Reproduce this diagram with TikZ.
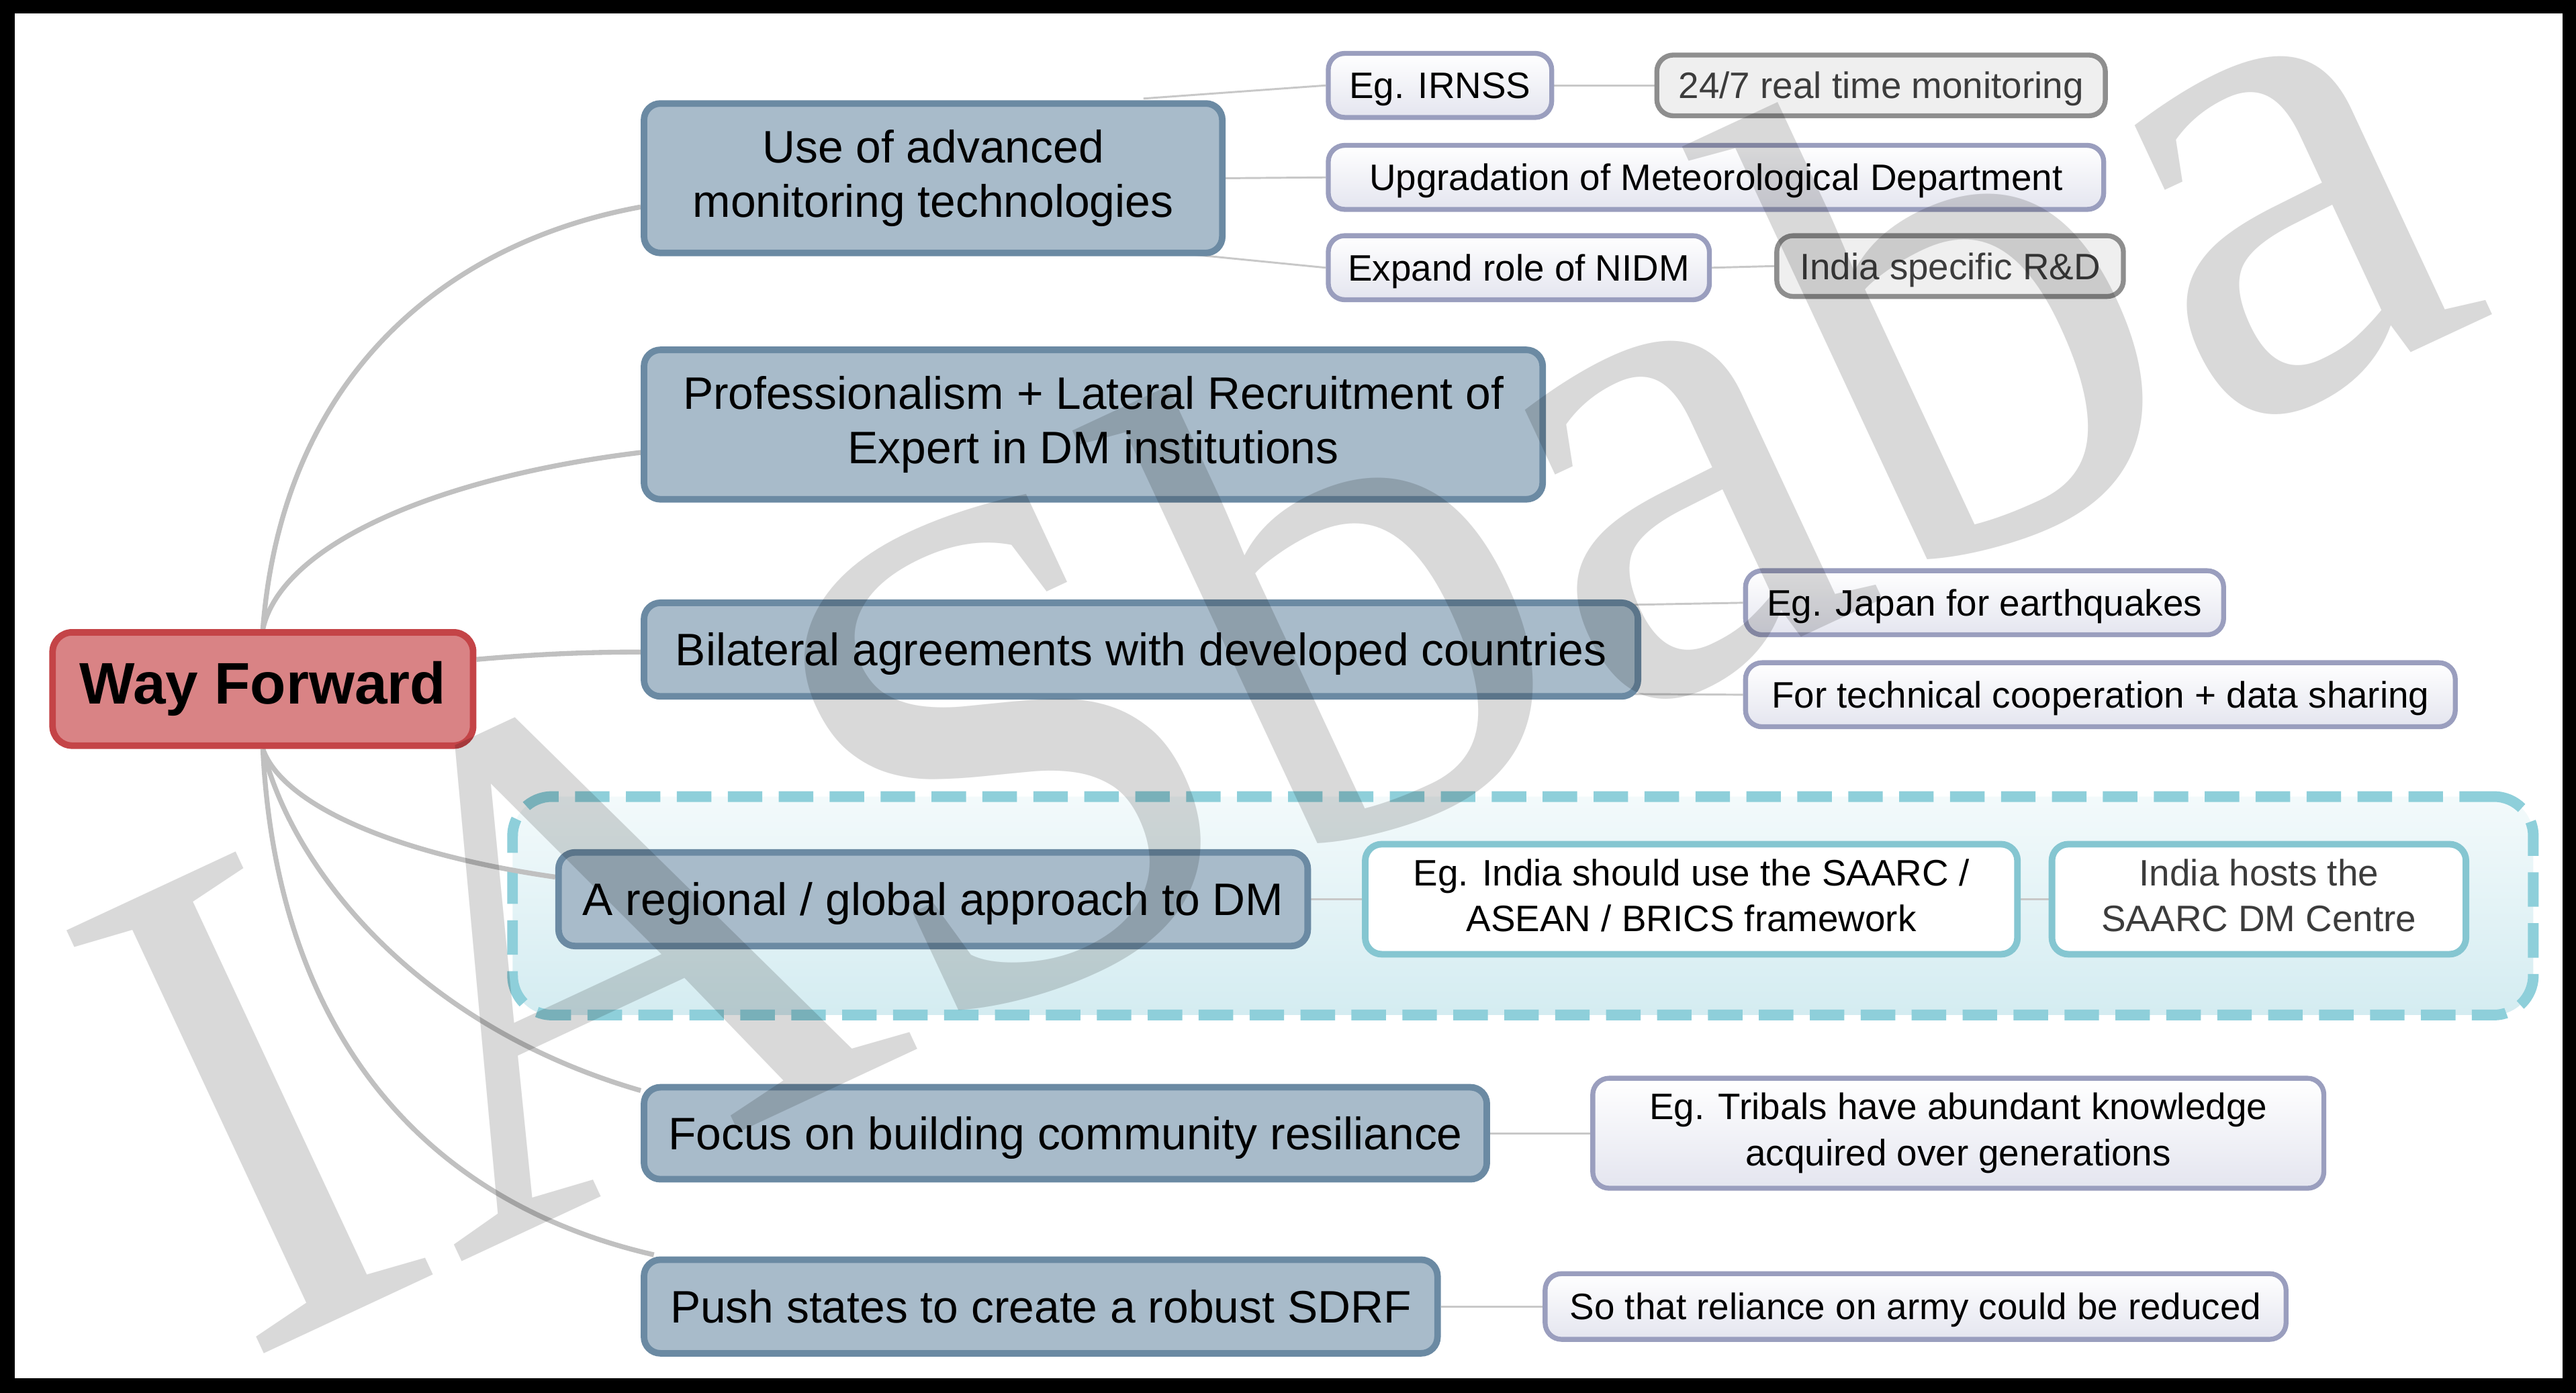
\documentclass[tikz,border=0pt]{standalone}
\usepackage{fontspec}
\setmainfont{Liberation Sans}
\newfontfamily\wmfont{Liberation Serif}
\usetikzlibrary{calc,backgrounds}
\pgfdeclarelayer{grp}
\pgfdeclarelayer{conn}
\pgfdeclarelayer{wm}
\pgfsetlayers{background,grp,conn,main,wm}
\definecolor{rootfill}{HTML}{D98385}
\definecolor{rootdraw}{HTML}{C44447}
\definecolor{mainfill}{HTML}{A8BBCA}
\definecolor{maindraw}{HTML}{6B8AA3}
\definecolor{subdraw}{HTML}{9A9EBE}
\definecolor{subbot}{HTML}{E4E5EF}
\definecolor{graydraw}{HTML}{8E8E8E}
\definecolor{grayfill}{HTML}{EFEFEF}
\definecolor{graytext}{HTML}{3C3C3C}
\definecolor{tealdraw}{HTML}{85C6D1}
\definecolor{grpdraw}{HTML}{8ECFDA}
\definecolor{grptop}{HTML}{F3FAFB}
\definecolor{grpbot}{HTML}{D4ECF1}
\definecolor{connc}{HTML}{C0C0C0}
\definecolor{thinc}{HTML}{C8C8C8}
\newcommand\bxstrut{\rule[-0.21em]{0pt}{1.14em}}
\tikzset{
  rootbox/.style={draw=rootdraw, fill=rootfill, line width=2pt, rounded corners=6pt,
    inner sep=0pt, align=center, font=\fontsize{17.85pt}{21pt}\selectfont\bfseries},
  strutted/.style={execute at begin node=\bxstrut, execute at end node=\bxstrut},
  mainbox/.style={strutted, draw=maindraw, fill=mainfill, line width=2pt, rounded corners=5pt,
    inner sep=0pt, align=center, font=\fontsize{13.85pt}{16.7pt}\selectfont},
  basebox/.style={strutted, line width=1.5pt, rounded corners=5pt, inner sep=0pt, align=center,
    font=\fontsize{11.2pt}{14pt}\selectfont},
  subbox/.style={basebox, draw=subdraw, top color=white, bottom color=subbot},
  graybox/.style={basebox, draw=graydraw, fill=grayfill, text=graytext},
  tealbox/.style={basebox, draw=tealdraw, fill=white, line width=2pt},
  grpbox/.style={draw=grpdraw, line width=3.25pt, dash pattern=on 10.5pt off 5pt,
    rounded corners=12pt, top color=grptop, bottom color=grpbot, inner sep=0pt},
  mainlink/.style={draw=connc, line width=1.5pt},
  sublink/.style={draw=thinc, line width=0.6pt},
  wh/.style 2 args={minimum width=#1, minimum height=#2}
}
\begin{document}
\begin{tikzpicture}[x=0.5pt, y=-0.5pt]
\useasboundingbox (0,0) rectangle (1568,848);
\begin{pgfonlayer}{background}
  \fill[black] (0,0) rectangle (1568,848);
  \fill[white] (9,8) rectangle (1560,839);
\end{pgfonlayer}

\begin{pgfonlayer}{grp}
  \node[grpbox, wh={615pt}{66.5pt}] (grp) at (927,551.5) {};
\end{pgfonlayer}

% root and main branches
\node[rootbox, wh={128pt}{34.5pt}] (root) at (160,419.5) {Way Forward};
\node[mainbox, wh={176pt}{45.5pt}] (b1) at (568,108.5) {Use of advanced\\monitoring technologies};
\node[mainbox, wh={273.5pt}{45.5pt}] (b2) at (665.5,258.5) {Professionalism + Lateral Recruitment of\\Expert in DM institutions};
\node[mainbox, wh={302.5pt}{28.5pt}] (b3) at (694.5,395.5) {Bilateral agreements with developed countries};
\node[mainbox, wh={228pt}{28.5pt}] (b4) at (568,547.5) {A regional / global approach to DM};
\node[mainbox, wh={256.5pt}{28pt}] (b5) at (648.5,690) {Focus on building community resiliance};
\node[mainbox, wh={241.5pt}{28.5pt}] (b6) at (633.5,795.5) {Push states to create a robust SDRF};

% sub topics
\node[subbox, wh={68pt}{19.5pt}] (s1) at (876.5,52) {Eg. IRNSS};
\node[graybox, wh={136.5pt}{18.5pt}] (s2) at (1145,52) {24/7 real time monitoring};
\node[subbox, wh={236pt}{19.5pt}] (s3) at (1044.5,108) {Upgradation of Meteorological Department};
\node[subbox, wh={116pt}{19.5pt}] (s4) at (924.5,163) {Expand role of NIDM};
\node[graybox, wh={105.5pt}{18.5pt}] (s5) at (1187,162) {India specific R\&D};
\node[subbox, wh={145.5pt}{19.5pt}] (s6) at (1208,367) {Eg. Japan for earthquakes};
\node[subbox, wh={216pt}{19.5pt}] (s7) at (1278.5,423) {For technical cooperation + data sharing};
\node[tealbox, wh={198.5pt}{33.5pt}] (s8) at (1029.5,547.5) {Eg. India should use the SAARC /\\ASEAN / BRICS framework};
\node[tealbox, text=graytext, wh={126pt}{33.5pt}] (s9) at (1375,547.5) {India hosts the\\SAARC DM Centre};
\node[subbox, wh={222.5pt}{33.5pt}] (s10) at (1192,690) {Eg. Tribals have abundant knowledge\\acquired over generations};
\node[subbox, wh={225.5pt}{20pt}] (s11) at (1166,795.5) {So that reliance on army could be reduced};

\begin{pgfonlayer}{conn}
  \draw[mainlink] (root.north) .. controls (172,230) and (270,148) .. ($(b1.west)+(0,17.5)$);
  \draw[mainlink] (root.north) .. controls (172,330) and (270,290) .. ($(b2.west)+(0,17)$);
  \draw[mainlink] ($(root.east)+(0,-18)$) .. controls (330,398) and (360,397) .. ($(b3.west)+(0,1.5)$);
  \draw[mainlink] (root.south) .. controls (172,490) and (240,520) .. ($(b4.west)+(0,-13.5)$);
  \draw[mainlink] (root.south) .. controls (178,530) and (255,625) .. ($(b5.west)+(0,-26)$);
  \draw[mainlink] (root.south) .. controls (168,620) and (250,730) .. ($(b6.north west)+(8,-1)$);

  \draw[sublink] ($(b1.north east)+(-50,-1)$) -- (s1.west);
  \draw[sublink] (b1.east) -- (s3.west);
  \draw[sublink] ($(b1.south east)+(-40,-3)$) -- (s4.west);
  \draw[sublink] (s1.east) -- (s2.west);
  \draw[sublink] (s4.east) -- (s5.west);
  \draw[sublink] ($(b3.east)+(-20,-27)$) -- (s6.west);
  \draw[sublink] ($(b3.east)+(-20,27)$) -- (s7.west);
  \draw[sublink] (b4.east) -- (s8.west);
  \draw[sublink] (s8.east) -- (s9.west);
  \draw[sublink] (b5.east) -- (s10.west);
  \draw[sublink] (b6.east) -- (s11.west);
\end{pgfonlayer}

\begin{pgfonlayer}{wm}
  \node[anchor=base west, rotate=25, inner sep=0pt, text=black, text opacity=0.15,
        font=\wmfont\fontsize{217pt}{217pt}\selectfont] (wmark) at (146,831) {IASbaba};
\end{pgfonlayer}
\end{tikzpicture}
\end{document}
